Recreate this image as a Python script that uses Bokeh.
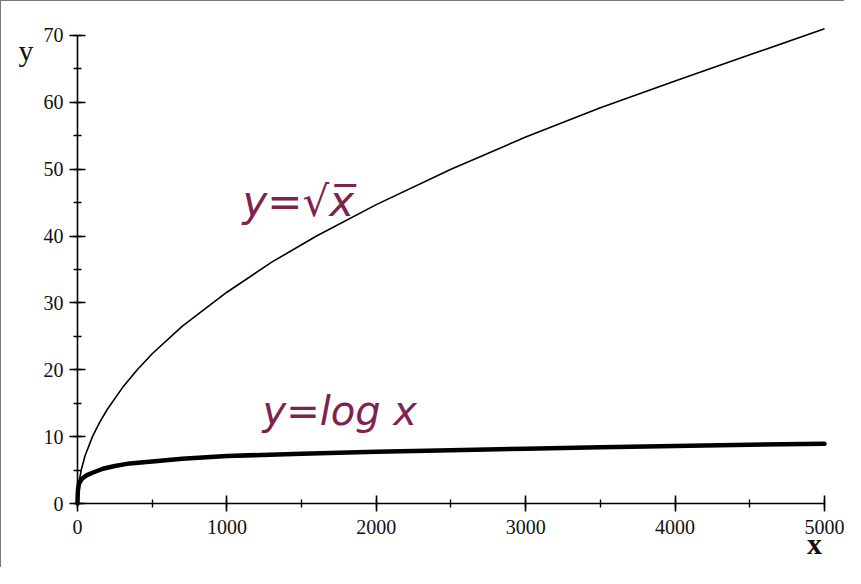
from bokeh.plotting import figure
from bokeh.models import SingleIntervalTicker, Label, Range1d, LinearAxis
from bokeh.embed import file_html
from bokeh.resources import INLINE

# Values
sqrt_x = [0, 5, 10, 25, 50, 100, 150, 200, 300, 400, 500, 700, 1000, 1300, 1600,
          2000, 2500, 3000, 3500, 4000, 4500, 5000]
sqrt_y = [0, 2.2, 3.2, 5.0, 7.1, 10.0, 12.2, 14.1, 17.3, 20.0, 22.4, 26.5, 31.6, 36.1, 40.0,
          44.7, 50.0, 54.8, 59.2, 63.2, 67.1, 71.0]

log_x = [0, 1, 3, 10, 30, 60, 100, 170, 250, 350, 500, 700, 1000, 1500, 2000,
         2500, 3000, 3500, 4000, 4500, 5000]
log_y = [0, 1.0, 2.0, 3.0, 3.7, 4.2, 4.6, 5.2, 5.6, 6.0, 6.3, 6.7, 7.1, 7.45, 7.75,
         7.95, 8.2, 8.4, 8.6, 8.8, 8.95]

x_ticks_interval = 1000
y_ticks_interval = 10
x_max = 5000
y_max = 70

SERIF = "Liberation Serif"
INK = "#7e2350"

p = figure(width=844, height=567, output_backend="svg", toolbar_location=None,
           x_range=Range1d(-508.7, 5140.6), y_range=Range1d(-9.72, 75.08),
           x_axis_location=None, y_axis_location=None, min_border=0)
p.styles = {"border-top": "1px solid #777", "border-left": "1px solid #777"}
p.outline_line_color = None
p.grid.visible = False
p.background_fill_color = "white"
p.border_fill_color = "white"

xaxis = LinearAxis()
yaxis = LinearAxis()
p.add_layout(xaxis, "below")
p.add_layout(yaxis, "left")

for ax, interval, bnd in ((xaxis, x_ticks_interval, (0, x_max)),
                          (yaxis, y_ticks_interval, (0, y_max))):
    ax.fixed_location = 0
    ax.ticker = SingleIntervalTicker(interval=interval, num_minor_ticks=2)
    ax.bounds = bnd
    ax.axis_line_color = "black"
    ax.axis_line_width = 1.6
    ax.major_tick_line_color = "black"
    ax.major_tick_line_width = 1.6
    ax.minor_tick_line_color = "black"
    ax.minor_tick_line_width = 1.4
    ax.major_tick_in = 8
    ax.major_tick_out = 8
    ax.minor_tick_in = 4
    ax.minor_tick_out = 4
    ax.major_label_text_font = SERIF
    ax.major_label_text_font_size = "20px"
    ax.major_label_text_color = "#111111"

xaxis.major_label_standoff = 8
yaxis.major_label_standoff = 6

p.line(sqrt_x, sqrt_y, line_color="black", line_width=1.6, line_join="round")
p.line(log_x, log_y, line_color="black", line_width=4.5, line_join="round", line_cap="round")

# axis names
p.add_layout(Label(x=-345, y=67.8, text="y", text_font=SERIF, text_font_size="30px",
                   text_align="center", text_baseline="alphabetic", text_color="#111111"))
p.add_layout(Label(x=4933, y=-6.0, text="x", text_font=SERIF, text_font_size="30px",
                   text_font_style="bold", text_align="center", text_baseline="alphabetic",
                   text_color="#111111"))

# handwritten annotations
p.add_layout(Label(x=1104, y=41.5, text="y=\u221ax\u0305", text_font="DejaVu Sans",
                   text_font_size="42px", text_font_style="italic", text_color=INK))
p.add_layout(Label(x=1238, y=10.4, text="y=log x", text_font="DejaVu Sans",
                   text_font_size="40px", text_font_style="italic", text_color=INK))

open("out.html", "w").write(file_html(p, INLINE))
